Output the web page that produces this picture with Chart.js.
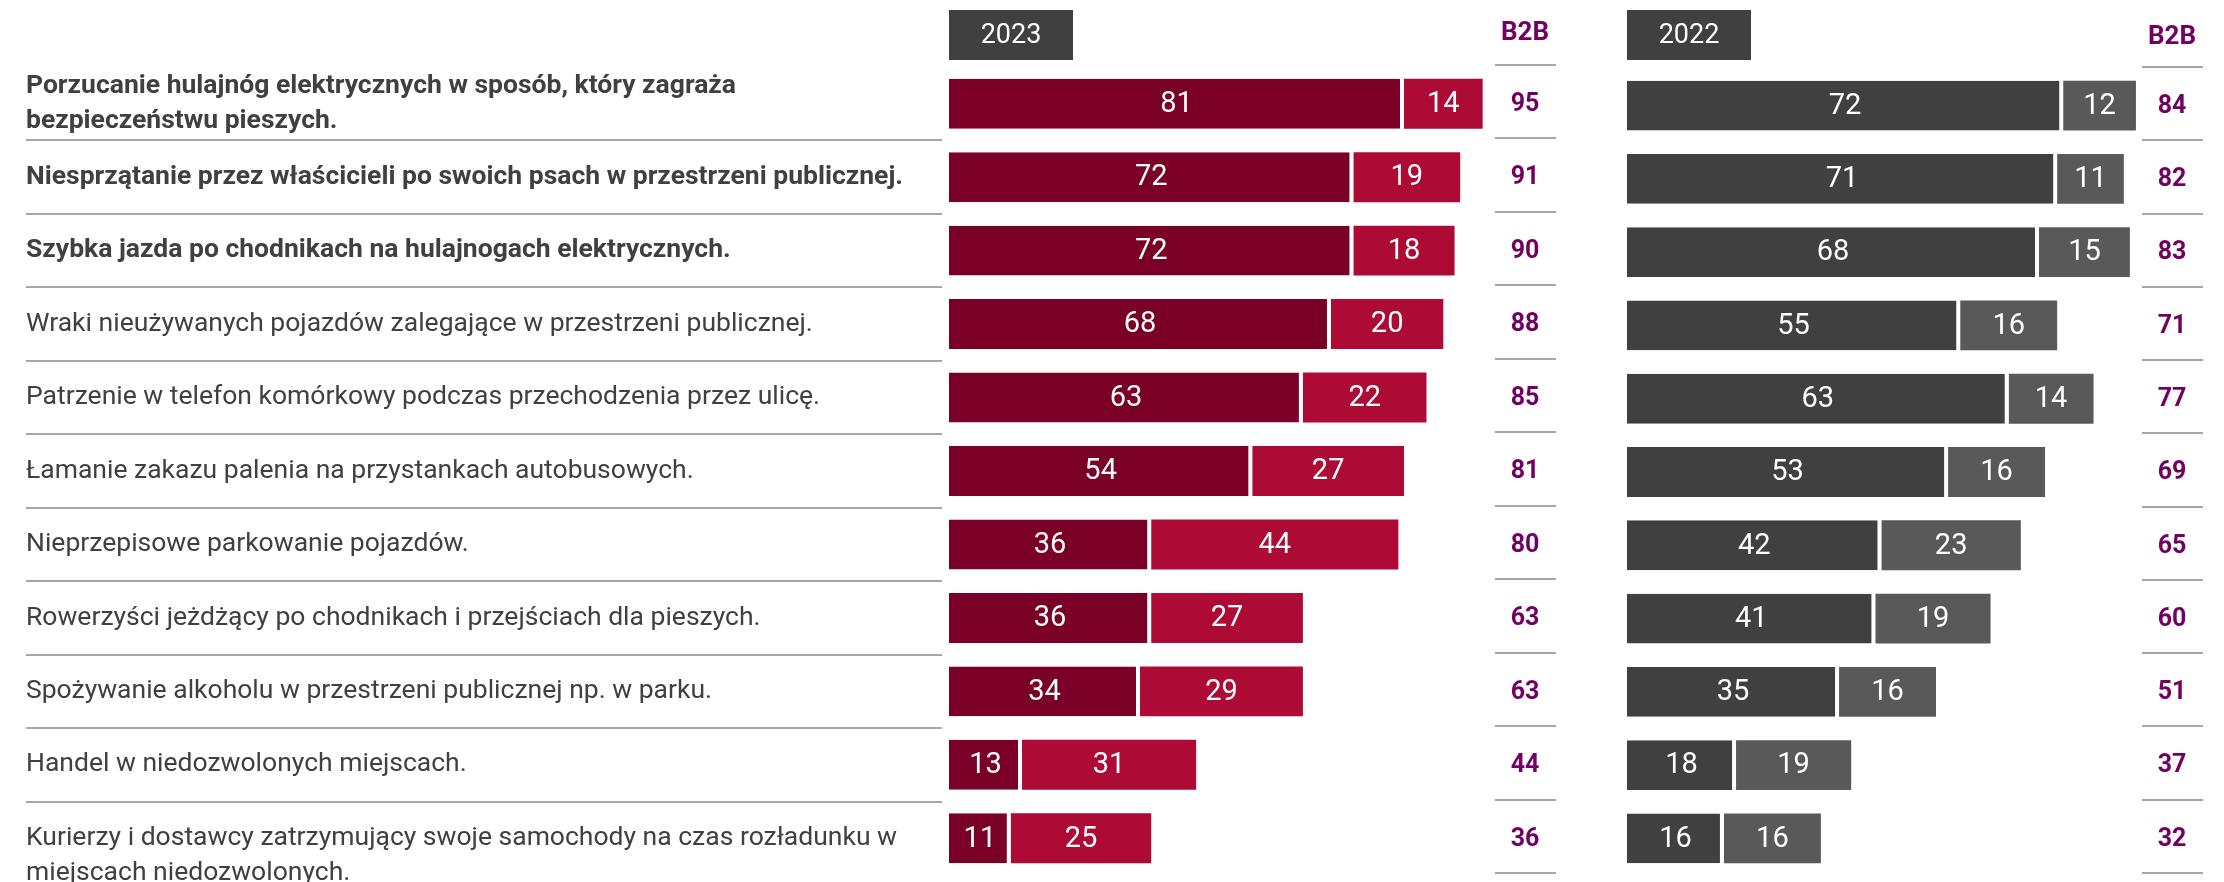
<!DOCTYPE html>
<html lang="pl">
<head>
<meta charset="utf-8">
<title>Zachowania w przestrzeni publicznej 2023 vs 2022</title>
<script src="https://cdn.jsdelivr.net/npm/chart.js@4"></script>
<style>
  html, body { margin: 0; padding: 0; background: #fff; }
  #wrap { position: relative; width: 2224px; height: 882px; overflow: hidden; }
  #chart2023 { position: absolute; left: 0; top: 0; }
  #chart2022 { position: absolute; left: 1580px; top: 0; }
</style>
</head>
<body>
<div id="wrap">
  <canvas id="chart2023" width="1580" height="882"></canvas>
  <canvas id="chart2022" width="644" height="882"></canvas>
</div>
<script>
// Dane
const categories = [
    ['Porzucanie hulajnóg elektrycznych w sposób, który zagraża', 'bezpieczeństwu pieszych.'],
    'Niesprzątanie przez właścicieli po swoich psach w przestrzeni publicznej.',
    'Szybka jazda po chodnikach na hulajnogach elektrycznych.',
    'Wraki nieużywanych pojazdów zalegające w przestrzeni publicznej.',
    'Patrzenie w telefon komórkowy podczas przechodzenia przez ulicę.',
    'Łamanie zakazu palenia na przystankach autobusowych.',
    'Nieprzepisowe parkowanie pojazdów.',
    'Rowerzyści jeżdżący po chodnikach i przejściach dla pieszych.',
    'Spożywanie alkoholu w przestrzeni publicznej np. w parku.',
    'Handel w niedozwolonych miejscach.',
    ['Kurierzy i dostawcy zatrzymujący swoje samochody na czas rozładunku w', 'miejscach niedozwolonych.']
];
const top2023 = [81, 72, 72, 68, 63, 54, 36, 36, 34, 13, 11];
const second2023 = [14, 19, 18, 20, 22, 27, 44, 27, 29, 31, 25];
const b2b2023 = [95, 91, 90, 88, 85, 81, 80, 63, 63, 44, 36];
const top2022 = [72, 71, 68, 55, 63, 53, 42, 41, 35, 18, 16];
const second2022 = [12, 11, 15, 16, 14, 16, 23, 19, 16, 19, 16];
const b2b2022 = [84, 82, 83, 71, 77, 69, 65, 60, 51, 37, 32];
const boldRows = 3;

const FONT = 'Roboto, "Noto Sans", "Liberation Sans", sans-serif';
const TEXT = '#404040';
const PURPLE = '#720062';
const LINE = '#a6a6a6';

Chart.defaults.font.family = FONT;
Chart.defaults.color = TEXT;

// Rysuje etykiety wartości, nagłówek roku, kolumnę B2B i linie podziału
const panelPlugin = {
    id: 'panel',
    afterDatasetsDraw(chart) {
        const ctx = chart.ctx;
        ctx.save();
        ctx.fillStyle = '#fff';
        ctx.font = '29px ' + FONT;
        ctx.textAlign = 'center';
        ctx.textBaseline = 'middle';
        chart.data.datasets.forEach((ds, di) => {
            const meta = chart.getDatasetMeta(di);
            meta.data.forEach((bar, i) => {
                const p = bar.getProps(['x', 'y', 'base'], true);
                ctx.fillText(ds.data[i], (p.x + p.base) / 2, p.y + 1);
            });
        });
        ctx.restore();
    },
    afterDraw(chart, args, opts) {
        const ctx = chart.ctx;
        const area = chart.chartArea;
        const y = chart.scales.y;
        const step = y.getPixelForValue(1) - y.getPixelForValue(0);
        ctx.save();

        // nagłówek roku
        ctx.fillStyle = '#404040';
        ctx.fillRect(area.left, 10, 124, 50);
        ctx.fillStyle = '#fff';
        ctx.font = '27px ' + FONT;
        ctx.textAlign = 'center';
        ctx.textBaseline = 'middle';
        ctx.fillText(opts.year, area.left + 62, 36);

        // kolumna B2B
        ctx.fillStyle = PURPLE;
        ctx.font = 'bold 26px ' + FONT;
        ctx.fillText('B2B', opts.colX, opts.headerY);
        ctx.font = 'bold 25px ' + FONT;
        opts.values.forEach((v, i) => {
            ctx.fillText(v, opts.colX, y.getPixelForValue(i) + 1);
        });
        ctx.strokeStyle = LINE;
        ctx.lineWidth = 2;
        for (let i = 0; i <= opts.values.length; i++) {
            const ly = Math.round(y.getPixelForValue(i) - step / 2 - 2);
            ctx.beginPath();
            ctx.moveTo(opts.colX - 30, ly);
            ctx.lineTo(opts.colX + 31, ly);
            ctx.stroke();
        }

        // linie między etykietami
        if (opts.separators) {
            for (let i = 1; i < opts.values.length; i++) {
                const ly = Math.round(y.getPixelForValue(i) - step / 2);
                ctx.beginPath();
                ctx.moveTo(26, ly);
                ctx.lineTo(area.left - 7, ly);
                ctx.stroke();
            }
        }
        ctx.restore();
    }
};

function makeChart(id, first, second, colors, b2b, cfg) {
    return new Chart(document.getElementById(id), {
        type: 'bar',
        data: {
            labels: categories,
            datasets: [
                {
                    label: 'Zdecydowanie',
                    data: first,
                    backgroundColor: colors[0],
                    borderColor: '#fff',
                    borderWidth: { top: 0, bottom: 0, left: 0, right: 4 },
                    borderSkipped: false
                },
                {
                    label: 'Raczej',
                    data: second,
                    backgroundColor: colors[1],
                    borderWidth: 0
                }
            ]
        },
        options: {
            indexAxis: 'y',
            responsive: false,
            animation: false,
            barPercentage: 0.68,
            categoryPercentage: 1,
            layout: { padding: cfg.padding },
            plugins: {
                legend: { display: false },
                tooltip: { enabled: false },
                panel: { year: cfg.year, values: b2b, colX: cfg.colX, headerY: cfg.headerY, separators: cfg.labels }
            },
            scales: {
                x: { stacked: true, display: false, min: 0, max: cfg.max },
                y: {
                    stacked: true,
                    display: cfg.labels,
                    grid: { display: false },
                    border: { display: false },
                    afterFit: (scale) => {
                        if (cfg.labels) scale.width = 923;
                        // etykiety mogą wychodzić poza obszar, jak w oryginale
                        scale.paddingTop = 0;
                        scale.paddingBottom = 0;
                    },
                    ticks: {
                        autoSkip: false,
                        crossAlign: 'far',
                        padding: 0,
                        color: TEXT,
                        callback: (v, i) => {
                            const lab = categories[i];
                            // ostatnia etykieta: pierwsza linia na wysokości słupka
                            return i === categories.length - 1 ? [''].concat(lab) : lab;
                        },
                        font: (c) => ({
                            family: FONT,
                            size: 26.5,
                            weight: c.index < boldRows ? 'bold' : 'normal',
                            lineHeight: 1.32
                        })
                    }
                }
            }
        },
        plugins: [panelPlugin]
    });
}

makeChart('chart2023', top2023, second2023, ['#7a0028', '#ad0a36'], b2b2023, {
    year: '2023', labels: true, max: 97.2, colX: 1525, headerY: 33,
    padding: { left: 26, right: 85, top: 67, bottom: 7 }
});
makeChart('chart2022', top2022, second2022, ['#404040', '#595959'], b2b2022, {
    year: '2022', labels: false, max: 85, colX: 592, headerY: 37,
    padding: { left: 47, right: 82, top: 69, bottom: 7 }
});
</script>
</body>
</html>
